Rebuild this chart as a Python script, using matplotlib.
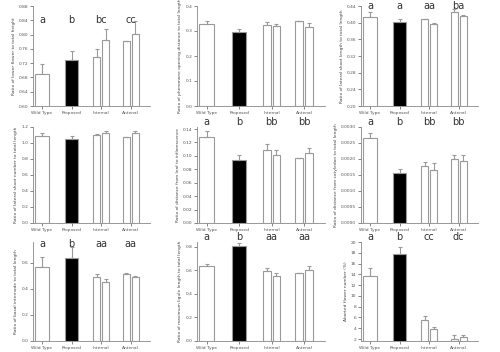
import numpy as np
import matplotlib
matplotlib.use("Agg")
import matplotlib.pyplot as plt

# Section: Data
# ---
groups = ["Wild Type", "Proposed", "Internal", "Antenal"]

# bar order: wild type, proposed, internal (2 bars), antenal (2 bars)
p1_vals = [0.690, 0.728, 0.738, 0.785, 0.782, 0.803]
p1_errs = [0.027, 0.026, 0.021, 0.030, 0.000, 0.035]
p2_vals = [0.328, 0.297, 0.324, 0.320, 0.341, 0.315]
p2_errs = [0.013, 0.012, 0.011, 0.008, 0.000, 0.016]
p3_vals = [0.414, 0.402, 0.408, 0.398, 0.426, 0.417]
p3_errs = [0.012, 0.008, 0.002, 0.002, 0.006, 0.002]
p4_vals = [1.090, 1.056, 1.100, 1.126, 1.070, 1.126]
p4_errs = [0.036, 0.034, 0.015, 0.018, 0.000, 0.030]
p5_vals = [0.128, 0.094, 0.108, 0.102, 0.0965, 0.104]
p5_errs = [0.009, 0.008, 0.009, 0.007, 0.000, 0.008]
p6_vals = [0.00266, 0.00155, 0.00177, 0.00167, 0.00200, 0.00195]
p6_errs = [0.00016, 0.00014, 0.00015, 0.00020, 0.00013, 0.00016]
p7_vals = [0.566, 0.638, 0.494, 0.456, 0.515, 0.489]
p7_errs = [0.078, 0.082, 0.021, 0.020, 0.010, 0.013]
p8_vals = [0.633, 0.810, 0.590, 0.553, 0.576, 0.600]
p8_errs = [0.023, 0.020, 0.029, 0.023, 0.000, 0.033]
p9_vals = [13.7, 17.7, 5.6, 3.8, 2.06, 2.37]
p9_errs = [1.4, 1.4, 0.7, 0.4, 0.6, 0.4]

p1_letters = ["a", "b", "bc", "cc"]
p3_letters = ["a", "a", "aa", "ba"]
p5_letters = ["a", "b", "bb", "bb"]
p6_letters = ["a", "b", "bb", "bb"]
p7_letters = ["a", "b", "aa", "aa"]
p8_letters = ["a", "b", "aa", "aa"]
p9_letters = ["a", "b", "cc", "dc"]

p1_ticks = [0.60, 0.64, 0.68, 0.72, 0.76, 0.80, 0.84, 0.88]
p2_ticks = [0.0, 0.1, 0.2, 0.3, 0.4]
p3_ticks = [0.20, 0.24, 0.28, 0.32, 0.36, 0.40, 0.44]
p4_ticks = [0.0, 0.2, 0.4, 0.6, 0.8, 1.0, 1.2]
p5_ticks = [0.00, 0.02, 0.04, 0.06, 0.08, 0.10, 0.12, 0.14]
p6_ticks = [0.0000, 0.0005, 0.0010, 0.0015, 0.0020, 0.0025, 0.0030]
p7_ticks = [0.0, 0.2, 0.4, 0.6]
p8_ticks = [0.0, 0.2, 0.4, 0.6, 0.8]
p9_ticks = [2, 4, 6, 8, 10, 12, 14, 16, 18, 20]

ylabels = [
    "Ratio of lower flower to total height",
    "Ratio of pheromone opening distance to total length",
    "Ratio of lateral shoot length to total length",
    "Ratio of lateral shoot number to total length",
    "Ratio of distance from leaf to inflorescence",
    "Ratio of distance from cotyledon to total length",
    "Ratio of basal internode to total length",
    "Ratio of maximum ligule length to total length",
    "Aborted flower number (%)",
]

# Section: Layout (pixels of a 500x352 figure)
# ---
W, H = 500, 352
col_lr = [(33, 150), (197, 325), (361, 478)]
row_bt = [(106, 6), (223, 127), (341, 242)]

panels = [
    (p1_vals, p1_errs, p1_letters, p1_ticks, (0.60, 0.88), "%.2f", 0.86),
    (p2_vals, p2_errs, None, p2_ticks, (0.0, 0.4), "%.1f", 1.0),
    (p3_vals, p3_errs, p3_letters, p3_ticks, (0.20, 0.44), "%.2f", 1.0),
    (p4_vals, p4_errs, None, p4_ticks, (0.0, 1.2), "%.1f", 1.0),
    (p5_vals, p5_errs, p5_letters, p5_ticks, (0.0, 0.143), "%.2f", 1.05),
    (p6_vals, p6_errs, p6_letters, p6_ticks, (0.0, 0.003), "%.4f", 1.05),
    (p7_vals, p7_errs, p7_letters, p7_ticks, (0.0, 0.76), "%.1f", 0.98),
    (p8_vals, p8_errs, p8_letters, p8_ticks, (0.0, 0.84), "%.1f", 1.05),
    (p9_vals, p9_errs, p9_letters, p9_ticks, (1.63, 20.0), "%d", 1.05),
]

bar_x = [0, 1, 1.85, 2.15, 2.85, 3.15]
bar_w = [0.45, 0.45, 0.24, 0.24, 0.24, 0.24]
bar_fc = ["white", "black", "white", "white", "white", "white"]
edge = "#9a9a9a"

fig = plt.figure(figsize=(W / 100, H / 100), dpi=100)

for i, (vals, errs, letters, ticks, ylim, fmt, let_y) in enumerate(panels):
    r, c = divmod(i, 3)
    l, rr = col_lr[c]
    b, t = row_bt[r]
    ax = fig.add_axes([l / W, 1 - b / H, (rr - l) / W, (b - t) / H])
    ax.bar(bar_x, vals, width=bar_w, color=bar_fc, edgecolor=edge, linewidth=0.8,
           bottom=0, zorder=2)
    ax.errorbar(bar_x, vals, yerr=[np.zeros(len(errs)), errs], fmt="none",
                ecolor=edge, elinewidth=0.8, capsize=1.5, capthick=0.8, zorder=3)
    ax.set_ylim(*ylim)
    ax.set_xlim(-0.3, 3.65)
    ax.set_yticks(ticks)
    ax.set_yticklabels([fmt % v for v in ticks])
    ax.set_xticks(range(4))
    ax.set_xticklabels(groups)
    ax.tick_params(axis="both", labelsize=3.2, colors="#555555", length=2, width=0.5, pad=1.5)
    ax.set_ylabel(ylabels[i], fontsize=3.2, color="#444444", labelpad=2)
    for s in ["top", "right"]:
        ax.spines[s].set_visible(False)
    for s in ["left", "bottom"]:
        ax.spines[s].set_color("#888888")
        ax.spines[s].set_linewidth(0.6)
    if letters:
        for k, lab in enumerate(letters):
            ax.text(k, let_y, lab, transform=ax.get_xaxis_transform(), ha="center",
                    va="center", fontsize=7, color="#333333")

fig.savefig("out.png", dpi=100, facecolor="white")
